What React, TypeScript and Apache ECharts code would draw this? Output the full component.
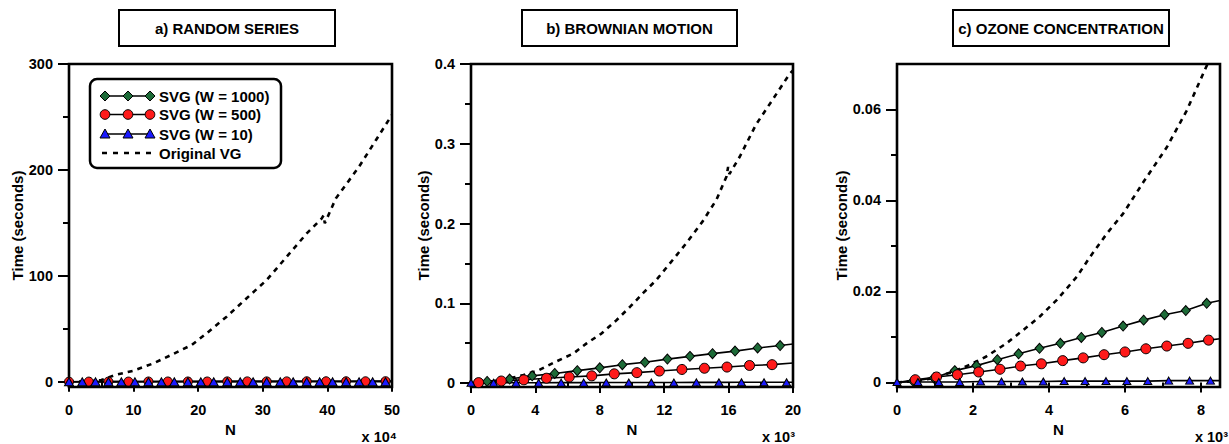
import React, { useEffect, useRef } from "react";
import * as echarts from "echarts";

const FONT = '"Liberation Sans", Arial, Helvetica, sans-serif';
const GREEN = "#1d6b38";
const RED = "#ff1a1a";
const BLUE = "#1a1aff";

// ---------- titles / labels ----------
const TITLES = ["a) RANDOM SERIES", "b) BROWNIAN MOTION", "c) OZONE CONCENTRATION"];
const EXPONENTS = ["x 10\u2074", "x 10\u00b3", "x 10\u00b3"];
const LEGEND_NAMES = ["SVG (W = 1000)", "SVG (W = 500)", "SVG (W = 10)", "Original VG"];
const Y_NAME = "Time (seconds)";
const X_NAME = "N";

// ---------- ticks ----------
const A_X_TICKS = [0, 10, 20, 30, 40, 50];
const A_X_MINOR = [5, 15, 25, 35, 45];
const A_Y_TICKS = [0, 100, 200, 300];
const A_Y_MINOR = [50, 150, 250];
const B_X_TICKS = [0, 4, 8, 12, 16, 20];
const B_X_MINOR = [2, 6, 10, 14, 18];
const B_Y_TICKS = [0, 0.1, 0.2, 0.3, 0.4];
const B_Y_MINOR = [0.05, 0.15, 0.25, 0.35];
const C_X_TICKS = [0, 2, 4, 6, 8];
const C_X_MINOR = [1, 3, 5, 7];
const C_Y_TICKS = [0, 0.02, 0.04, 0.06];
const C_Y_MINOR = [0.01, 0.03, 0.05];

// ---------- panel a: random series ----------
const A_DIA_X = [0, 6.1, 12.3, 18.4, 24.5, 30.6, 36.8, 42.9, 49.0];
const A_DIA_Y = [0, 0.1, 0.2, 0.3, 0.3, 0.4, 0.5, 0.5, 0.6];
const A_DIA_END = [50, 0.6];
const A_CIR_X = [0, 3.06, 6.1, 9.2, 12.3, 15.3, 18.4, 21.4, 24.5, 27.6, 30.6, 33.7, 36.8, 39.8, 42.9, 45.9, 49.0];
const A_CIR_Y = [0, 0.1, 0.1, 0.1, 0.2, 0.2, 0.2, 0.2, 0.3, 0.3, 0.3, 0.3, 0.4, 0.4, 0.4, 0.4, 0.5];
const A_CIR_END = [50, 0.5];
const A_TRI_X = [0, 2.05, 4.1, 6.1, 8.1, 10.2, 12.3, 14.3, 16.3, 18.4, 20.4, 22.4, 24.5, 26.5, 28.5, 30.6, 32.7, 34.7, 36.8, 38.8, 40.8, 42.9, 44.9, 47.0, 49.0];
const A_TRI_Y = [0, 0, 0, 0, 0, 0, 0, 0, 0, 0, 0, 0, 0, 0, 0, 0, 0, 0, 0, 0, 0, 0, 0, 0, 0];
const A_TRI_END = [50, 0];
const A_VG_X = [0, 2, 4, 5, 7.1, 10, 13.1, 15.6, 17.4, 19, 21.3, 24.4, 27.5, 30.6, 33.7, 36.8, 39.1, 39.4, 39.6, 41.3, 44.9, 47.5, 50];
const A_VG_Y = [0, 0.3, 1.0, 1.6, 6.3, 10.4, 17.4, 24.6, 30, 34.7, 45.7, 61.4, 78.8, 96, 118, 140, 154, 157, 149.6, 173, 203, 228, 252];

// ---------- panel b: brownian motion ----------
const B_DIA_X = [1.0, 2.4, 3.8, 5.2, 6.6, 8.0, 9.4, 10.8, 12.2, 13.6, 15.0, 16.4, 17.8, 19.2];
const B_DIA_Y = [0.002, 0.005, 0.009, 0.012, 0.0155, 0.019, 0.023, 0.026, 0.03, 0.0334, 0.0368, 0.04, 0.044, 0.047];
const B_DIA_START = [0, 0];
const B_DIA_END = [20, 0.049];
const B_CIR_X = [0.47, 1.88, 3.28, 4.69, 6.1, 7.5, 8.9, 10.3, 11.7, 13.1, 14.5, 15.9, 17.3, 18.7];
const B_CIR_Y = [0.0005, 0.0025, 0.004, 0.006, 0.0075, 0.009, 0.0115, 0.013, 0.015, 0.017, 0.0185, 0.02, 0.022, 0.023];
const B_CIR_START = [0, 0];
const B_CIR_END = [20, 0.025];
const B_TRI_X = [0, 1.4, 2.8, 4.2, 5.6, 7.0, 8.4, 9.8, 11.2, 12.6, 14.0, 15.4, 16.8, 18.2, 19.6];
const B_TRI_Y = [0.0003, 0.0003, 0.0004, 0.0004, 0.0005, 0.0005, 0.0006, 0.0006, 0.0007, 0.0007, 0.0008, 0.0008, 0.0009, 0.0009, 0.001];
const B_TRI_END = [20, 0.001];
const B_VG_X = [0, 1, 2, 3.26, 4.2, 5.3, 6.36, 7.2, 8.1, 9.05, 9.9, 10.7, 11.5, 12.56, 13.4, 14.4, 15.25, 15.87, 15.97, 16.05, 16.7, 17.7, 18.76, 19.8, 20];
const B_VG_Y = [0, 0.001, 0.004, 0.01, 0.016, 0.027, 0.037, 0.05, 0.062, 0.079, 0.096, 0.113, 0.129, 0.155, 0.176, 0.203, 0.23, 0.259, 0.271, 0.262, 0.284, 0.324, 0.356, 0.388, 0.392];

// ---------- panel c: ozone concentration ----------
const C_DIA_X = [0.42, 0.97, 1.52, 2.09, 2.64, 3.2, 3.75, 4.3, 4.85, 5.39, 5.95, 6.49, 7.04, 7.6, 8.15];
const C_DIA_Y = [0.0003, 0.001, 0.0026, 0.0037, 0.005, 0.0063, 0.0075, 0.0086, 0.0099, 0.011, 0.0124, 0.0137, 0.0149, 0.0158, 0.0174];
const C_DIA_START = [0, 0];
const C_DIA_END = [8.5, 0.018];
const C_CIR_X = [0.48, 1.04, 1.59, 2.15, 2.71, 3.25, 3.8, 4.36, 4.9, 5.45, 6.0, 6.55, 7.1, 7.66, 8.2];
const C_CIR_Y = [0.0006, 0.0012, 0.0017, 0.0023, 0.0029, 0.0036, 0.0041, 0.0048, 0.0054, 0.0061, 0.0067, 0.0074, 0.008, 0.0086, 0.0093];
const C_CIR_START = [0, 0];
const C_CIR_END = [8.5, 0.0096];
const C_TRI_X = [0, 0.55, 1.1, 1.65, 2.2, 2.75, 3.3, 3.85, 4.4, 4.95, 5.5, 6.05, 6.6, 7.15, 7.7, 8.25];
const C_TRI_Y = [0.0001, 0.0001, 0.0001, 0.0001, 0.0002, 0.0002, 0.0002, 0.0002, 0.0003, 0.0003, 0.0003, 0.0003, 0.0003, 0.0004, 0.0004, 0.0004];
const C_TRI_END = [8.5, 0.0004];
const C_VG_X = [0, 0.5, 1, 1.48, 1.92, 2.35, 2.88, 3.32, 3.76, 4.2, 4.73, 5.08, 5.52, 5.95, 6.48, 7.1, 7.62, 8.15, 8.25];
const C_VG_Y = [0, 0.0003, 0.001, 0.0024, 0.0039, 0.0057, 0.0086, 0.0115, 0.0145, 0.0181, 0.0232, 0.0276, 0.0327, 0.0371, 0.044, 0.0517, 0.0597, 0.0696, 0.0712];

const zip = (xs: number[], ys: number[]) => xs.map((x, i) => [x, ys[i]]);

const labelText = { fontSize: 14.5, fontWeight: "bold" as const, color: "#000", fontFamily: FONT };

function xAxesFor(grid: number, min: number, max: number, major: number[], minor: number[]) {
  return [
    {
      type: "value", gridIndex: grid, min, max, position: "bottom",
      axisLine: { show: false }, splitLine: { show: false },
      axisTick: { show: true, customValues: major, length: 10, lineStyle: { width: 2, color: "#000" } },
      axisLabel: { customValues: major, margin: 15, ...labelText },
      name: X_NAME, nameLocation: "middle", nameGap: 32,
      nameTextStyle: { fontSize: 15, fontWeight: "bold", color: "#000", fontFamily: FONT },
    },
    {
      type: "value", gridIndex: grid, min, max, position: "bottom",
      axisLine: { show: false }, splitLine: { show: false },
      axisTick: { show: true, customValues: minor, length: 5, lineStyle: { width: 2, color: "#000" } },
      axisLabel: { show: false },
    },
  ];
}

function yAxesFor(grid: number, min: number, max: number, major: number[], minor: number[], gap: number) {
  return [
    {
      type: "value", gridIndex: grid, min, max, position: "left",
      axisLine: { show: false }, splitLine: { show: false },
      axisTick: { show: true, customValues: major, length: 11, lineStyle: { width: 2, color: "#000" } },
      axisLabel: { customValues: major, margin: 16, formatter: (v: number) => String(v), ...labelText },
      name: Y_NAME, nameLocation: "middle", nameRotate: 90, nameGap: gap,
      nameTextStyle: { fontSize: 15, fontWeight: "bold", color: "#000", fontFamily: FONT },
    },
    {
      type: "value", gridIndex: grid, min, max, position: "left",
      axisLine: { show: false }, splitLine: { show: false },
      axisTick: { show: true, customValues: minor, length: 6, lineStyle: { width: 2, color: "#000" } },
      axisLabel: { show: false },
    },
  ];
}

function markerSeries(axis: number, xs: number[], ys: number[], start: number[] | null, end: number[] | null,
  symbol: string, size: number | number[], color: string) {
  const data: any[] = [];
  if (start) data.push({ value: start, symbol: "none" });
  zip(xs, ys).forEach((p) => data.push(p));
  if (end) data.push({ value: end, symbol: "none" });
  return {
    type: "line", xAxisIndex: axis, yAxisIndex: axis, data,
    symbol, symbolSize: size, showSymbol: true, showAllSymbol: true,
    lineStyle: { color: "#000", width: 1.6 },
    itemStyle: { color, borderColor: "#000", borderWidth: 1 },
    clip: true, silent: true,
  };
}

function vgSeries(axis: number, xs: number[], ys: number[]) {
  return {
    type: "line", xAxisIndex: axis, yAxisIndex: axis, data: zip(xs, ys),
    symbol: "none", lineStyle: { color: "#000", width: 2.6, type: [5, 5] },
    clip: true, silent: true, z: 3,
  };
}

function titleBox(x: number, w: number, text: string) {
  return [
    { type: "rect", shape: { x, y: 10, width: w, height: 36 }, style: { fill: "#fff", stroke: "#000", lineWidth: 2 }, z: 50 },
    {
      type: "text", x: x + w / 2, y: 28, z: 51,
      style: { text, align: "center", verticalAlign: "middle", fontSize: 15, fontWeight: "bold", fontFamily: FONT, fill: "#000" },
    },
  ];
}

function legendGraphic() {
  const items: any[] = [];
  items.push({
    type: "rect", shape: { x: 90, y: 79, width: 191, height: 89, r: 7 },
    style: { fill: "#fff", stroke: "#000", lineWidth: 2.5 }, z: 100,
  });
  const rows = [96, 114.5, 134, 153];
  const mx = [105, 128, 150];
  rows.forEach((y, i) => {
    if (i < 3) {
      items.push({ type: "line", shape: { x1: 102, y1: y, x2: 152, y2: y }, style: { stroke: "#000", lineWidth: 1.6 }, z: 101 });
      mx.forEach((x) => {
        if (i === 0) {
          items.push({ type: "polygon", shape: { points: [[x, y - 5], [x + 5, y], [x, y + 5], [x - 5, y]] }, style: { fill: GREEN, stroke: "#000", lineWidth: 1 }, z: 102 });
        } else if (i === 1) {
          items.push({ type: "circle", shape: { cx: x, cy: y, r: 4.8 }, style: { fill: RED, stroke: "#000", lineWidth: 1 }, z: 102 });
        } else {
          items.push({ type: "polygon", shape: { points: [[x, y - 5], [x + 5, y + 4], [x - 5, y + 4]] }, style: { fill: BLUE, stroke: "#000", lineWidth: 1 }, z: 102 });
        }
      });
    } else {
      items.push({ type: "line", shape: { x1: 102, y1: y, x2: 152, y2: y }, style: { stroke: "#000", lineWidth: 2.6, lineDash: [5, 6] }, z: 101 });
    }
    items.push({
      type: "text", x: 159, y, z: 103,
      style: { text: LEGEND_NAMES[i], align: "left", verticalAlign: "middle", fontSize: 15, fontWeight: "bold", fontFamily: FONT, fill: "#000" },
    });
  });
  return items;
}

function expText(xRight: number, text: string) {
  return {
    type: "text", x: xRight, y: 437, z: 60,
    style: { text, align: "right", verticalAlign: "middle", fontSize: 14.5, fontWeight: "bold", fontFamily: FONT, fill: "#000" },
  };
}

export default function App() {
  const ref = useRef<HTMLDivElement>(null);
  useEffect(() => {
    document.body.style.margin = "0";
    if (!ref.current) return;
    const chart = echarts.init(ref.current, undefined, { renderer: "svg" });
    const gridStyle = { show: true, borderColor: "#000", borderWidth: 2.6, backgroundColor: "transparent", containLabel: false };
    const option: any = {
      animation: false,
      backgroundColor: "#fff",
      grid: [
        { left: 69, top: 64, width: 323, height: 323, ...gridStyle },
        { left: 471, top: 64, width: 322, height: 323, ...gridStyle },
        { left: 897, top: 64, width: 323, height: 323, ...gridStyle },
      ],
      xAxis: [
        ...xAxesFor(0, 0, 50, A_X_TICKS, A_X_MINOR),
        ...xAxesFor(1, 0, 20, B_X_TICKS, B_X_MINOR),
        ...xAxesFor(2, 0, 8.5, C_X_TICKS, C_X_MINOR),
      ],
      yAxis: [
        ...yAxesFor(0, -5, 300, A_Y_TICKS, A_Y_MINOR, 43),
        ...yAxesFor(1, -0.005, 0.4, B_Y_TICKS, B_Y_MINOR, 40),
        ...yAxesFor(2, -0.001, 0.07, C_Y_TICKS, C_Y_MINOR, 48),
      ],
      series: [
        markerSeries(0, A_DIA_X, A_DIA_Y, null, A_DIA_END, "diamond", [8, 8], GREEN),
        markerSeries(0, A_CIR_X, A_CIR_Y, null, A_CIR_END, "circle", 9, RED),
        markerSeries(0, A_TRI_X, A_TRI_Y, null, A_TRI_END, "triangle", [9, 8], BLUE),
        vgSeries(0, A_VG_X, A_VG_Y),
        markerSeries(2, B_DIA_X, B_DIA_Y, B_DIA_START, B_DIA_END, "diamond", [9, 10], GREEN),
        markerSeries(2, B_CIR_X, B_CIR_Y, B_CIR_START, B_CIR_END, "circle", 10, RED),
        markerSeries(2, B_TRI_X, B_TRI_Y, null, B_TRI_END, "triangle", [8, 7], BLUE),
        vgSeries(2, B_VG_X, B_VG_Y),
        markerSeries(4, C_DIA_X, C_DIA_Y, C_DIA_START, C_DIA_END, "diamond", [9, 10], GREEN),
        markerSeries(4, C_CIR_X, C_CIR_Y, C_CIR_START, C_CIR_END, "circle", 10, RED),
        markerSeries(4, C_TRI_X, C_TRI_Y, null, C_TRI_END, "triangle", [8, 7], BLUE),
        vgSeries(4, C_VG_X, C_VG_Y),
      ],
      graphic: [
        ...titleBox(119, 216, TITLES[0]),
        ...titleBox(522, 215, TITLES[1]),
        ...titleBox(953, 216, TITLES[2]),
        ...legendGraphic(),
        expText(397, EXPONENTS[0]),
        expText(795, EXPONENTS[1]),
        expText(1228, EXPONENTS[2]),
      ],
    };
    chart.setOption(option);
    return () => chart.dispose();
  }, []);
  return <div ref={ref} style={{ width: 1229, height: 444 }} />;
}
